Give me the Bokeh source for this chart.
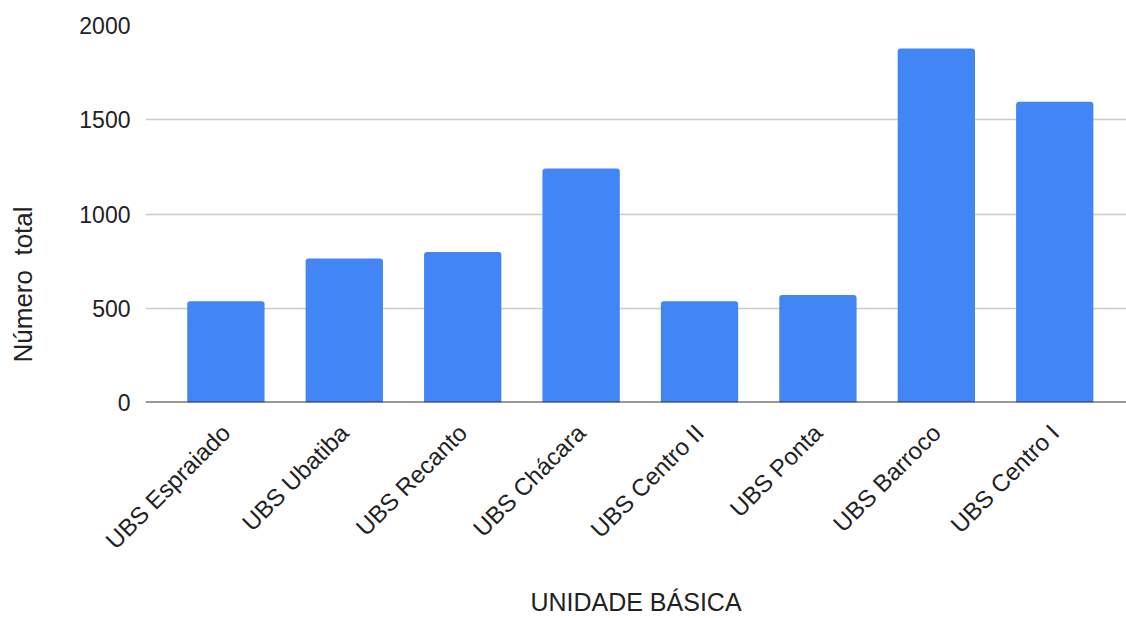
import math
from bokeh.plotting import figure
from bokeh.models import Range1d, FixedTicker, LinearAxis, Span, Title
from bokeh.embed import file_html
from bokeh.resources import INLINE

categories = ["UBS Espraiado", "UBS Ubatiba", "UBS Recanto", "UBS Chácara",
              "UBS Centro II", "UBS Ponta", "UBS Barroco", "UBS Centro I"]
values = [537, 764, 798, 1241, 537, 570, 1878, 1595]
y_ticks = [0, 500, 1000, 1500, 2000]
x_title = "UNIDADE BÁSICA"
y_title = "Número\u00a0 total"

x = list(range(len(categories)))

FONT = "Liberation Sans"
TXT = "#222222"

p = figure(width=1126, height=618, output_backend="svg", toolbar_location=None,
           x_range=Range1d(-0.679, 7.606), y_range=Range1d(0, 2000),
           min_border_left=145, min_border_right=0, min_border_top=25,
           min_border_bottom=215)
p.outline_line_color = None
p.background_fill_color = "white"
p.border_fill_color = "white"

p.vbar(x=x, top=values, width=0.653, bottom=0, fill_color="#4285F4",
       line_color=None, border_radius=(3, 3, 0, 0))

# dark baseline at zero
p.add_layout(Span(location=0, dimension="width", line_color="#333333",
                  line_width=2))

# x axis
xa = p.xaxis[0]
xa.ticker = FixedTicker(ticks=x)
xa.bounds = (-0.5, 7.52)
xa.major_label_overrides = {i: c for i, c in zip(x, categories)}
xa.major_label_orientation = math.pi / 4
xa.major_tick_line_color = None
xa.minor_tick_line_color = None
xa.axis_line_color = None
xa.major_label_text_font = FONT
xa.major_label_text_font_size = "24px"
xa.major_label_text_color = TXT
xa.major_label_standoff = 20
xa.axis_label = x_title
xa.axis_label_text_font = FONT
xa.axis_label_text_font_size = "25px"
xa.axis_label_text_font_style = "normal"
xa.axis_label_text_color = TXT
xa.axis_label_standoff = 21

# y axis with tick labels
ya = p.yaxis[0]
ya.ticker = FixedTicker(ticks=y_ticks)
ya.major_tick_line_color = None
ya.minor_tick_line_color = None
ya.major_tick_out = 0
ya.axis_line_color = None
ya.major_label_text_font = FONT
ya.major_label_text_font_size = "23px"
ya.major_label_text_color = TXT
ya.major_label_standoff = 15

# empty gap between the tick labels and the y title (invisible tick length)
gap = LinearAxis(ticker=FixedTicker(ticks=[0]), axis_line_color=None,
                 major_tick_line_color=None, minor_tick_line_color=None,
                 major_tick_in=0, major_tick_out=39, major_label_standoff=0,
                 major_label_overrides={0: ""})
p.add_layout(gap, "left")

# y title, placed lower than the frame centre as in the reference
p.add_layout(Title(text=y_title, align="left", offset=40, standoff=0,
                   text_font=FONT, text_font_size="26px",
                   text_font_style="normal", text_color=TXT), "left")

p.xgrid.grid_line_color = None
p.ygrid.grid_line_color = "#cccccc"
p.ygrid.grid_line_width = 1.5

open("out.html", "w").write(file_html(p, INLINE))
